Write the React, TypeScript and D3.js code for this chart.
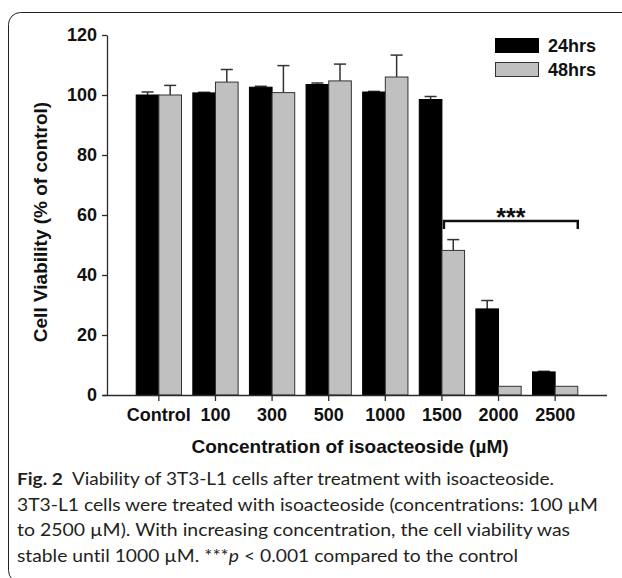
import { useEffect, useRef } from "react";
import * as d3 from "d3";

const CATEGORIES = ["Control", "100", "300", "500", "1000", "1500", "2000", "2500"];
const SERIES = ["24hrs", "48hrs"];
const VALUES_24 = [100, 100.7, 102.6, 103.5, 101.0, 98.5, 28.7, 7.7];
const ERRORS_24 = [1.0, 0.2, 0.3, 0.5, 0.2, 1.0, 2.8, 0.2];
const VALUES_48 = [100, 104.3, 100.8, 104.7, 106.0, 48.2, 2.9, 2.9];
const ERRORS_48 = [3.2, 4.2, 9.0, 5.6, 7.3, 3.6, 0, 0];
const Y_TICKS = [0, 20, 40, 60, 80, 100, 120];
const BRACKET = { from: "1500", to: "2500", value: 58, label: "***" };

const CAPTION = [
  [{ t: "Fig. 2", w: "bold" }, { t: "  Viability of 3T3-L1 cells after treatment with isoacteoside." }],
  [{ t: "3T3-L1 cells were treated with isoacteoside (concentrations: 100 µM" }],
  [{ t: "to 2500 µM). With increasing concentration, the cell viability was" }],
  [{ t: "stable until 1000 µM. ***" }, { t: "p", s: "italic" }, { t: " < 0.001 compared to the control" }],
];
const CAPTION_WIDTHS = [537, 581, 553, 501];

const FONT = "'Liberation Sans', Arial, sans-serif";
const INK = "#2b2b2b";

export default function App() {
  const svgRef = useRef<SVGSVGElement>(null);

  useEffect(() => {
    const svg = svgRef.current;
    if (!svg) return;
    const s = d3.select(svg);
    s.selectAll("*").remove();

    // panel frame
    s.append("rect")
      .attr("x", 8.5)
      .attr("y", 12.5)
      .attr("width", 700)
      .attr("height", 570)
      .attr("rx", 12)
      .attr("fill", "none")
      .attr("stroke", "#222")
      .attr("stroke-width", 1);

    const x0 = d3
      .scaleBand<string>()
      .domain(CATEGORIES)
      .range([107, 607])
      .paddingInner(0.2)
      .paddingOuter(0.516);
    const x1 = d3.scaleBand<string>().domain(SERIES).range([0, x0.bandwidth()]);
    const y = d3.scaleLinear().domain([0, 120]).range([395, 35]);

    const rows = CATEGORIES.map((c, i) => [
      { cat: c, key: "24hrs", v: VALUES_24[i], e: ERRORS_24[i] },
      { cat: c, key: "48hrs", v: VALUES_48[i], e: ERRORS_48[i] },
    ]).flat();

    const g = s.append("g");

    // error bars (upper half only)
    const eb = g.append("g").attr("stroke", "#333").attr("stroke-width", 1.5);
    rows
      .filter((d) => d.e > 0)
      .forEach((d) => {
        const cx = (x0(d.cat) ?? 0) + (x1(d.key) ?? 0) + x1.bandwidth() / 2;
        eb.append("line").attr("x1", cx).attr("x2", cx).attr("y1", y(d.v)).attr("y2", y(d.v + d.e));
        eb.append("line")
          .attr("x1", cx - 6)
          .attr("x2", cx + 6)
          .attr("y1", y(d.v + d.e))
          .attr("y2", y(d.v + d.e));
      });

    g.selectAll("rect.bar")
      .data(rows)
      .join("rect")
      .attr("class", "bar")
      .attr("x", (d) => (x0(d.cat) ?? 0) + (x1(d.key) ?? 0))
      .attr("width", x1.bandwidth())
      .attr("y", (d) => y(d.v))
      .attr("height", (d) => y(0) - y(d.v))
      .attr("fill", (d) => (d.key === "24hrs" ? "#000" : "#c0c0c0"))
      .attr("stroke", (d) => (d.key === "24hrs" ? "#000" : "#333"))
      .attr("stroke-width", 1);

    // y axis
    s.append("g")
      .attr("transform", "translate(107,0)")
      .call(d3.axisLeft(y).tickValues(Y_TICKS).tickSize(5).tickPadding(5).tickSizeOuter(0))
      .call((ax) => {
        ax.select(".domain").attr("stroke", INK).attr("stroke-width", 1.3);
        ax.selectAll(".tick line").attr("stroke", INK).attr("stroke-width", 1.3);
        ax.selectAll("text")
          .attr("fill", "#111")
          .attr("font-size", 18)
          .attr("font-weight", "bold")
          .style("font-family", FONT);
      });

    // x axis
    s.append("g")
      .attr("transform", `translate(0,${y(0)})`)
      .call(d3.axisBottom(x0).tickSize(6).tickPadding(7).tickSizeOuter(0))
      .call((ax) => {
        ax.select(".domain").attr("stroke", INK).attr("stroke-width", 1.3).attr("d", `M103,0.5H607`);
        ax.selectAll(".tick line").attr("stroke", INK).attr("stroke-width", 1.3);
        ax.selectAll("text")
          .attr("fill", "#111")
          .attr("font-size", 18)
          .attr("font-weight", "bold")
          .style("font-family", FONT);
      });

    // axis titles
    s.append("text")
      .attr("transform", "translate(47,222) rotate(-90)")
      .attr("text-anchor", "middle")
      .attr("font-size", 19)
      .attr("font-weight", "bold")
      .attr("fill", "#111")
      .style("font-family", FONT)
      .text("Cell Viability (% of control)");
    s.append("text")
      .attr("x", 350)
      .attr("y", 453)
      .attr("text-anchor", "middle")
      .attr("font-size", 19)
      .attr("font-weight", "bold")
      .attr("fill", "#111")
      .style("font-family", FONT)
      .text("Concentration of isoacteoside (µM)");

    // significance bracket
    const bx1 = (x0(BRACKET.from) ?? 0) + (x1("48hrs") ?? 0) + 2;
    const bx2 = (x0(BRACKET.to) ?? 0) + (x1("48hrs") ?? 0) + x1.bandwidth();
    const by = y(BRACKET.value);
    s.append("path")
      .attr("d", `M${bx1},${by + 8}V${by}H${bx2}V${by + 8}`)
      .attr("fill", "none")
      .attr("stroke", "#111")
      .attr("stroke-width", 2.5);
    s.append("text")
      .attr("x", (bx1 + bx2) / 2)
      .attr("y", by + 5)
      .attr("text-anchor", "middle")
      .attr("font-size", 25)
      .attr("font-weight", "bold")
      .attr("fill", "#111")
      .style("font-family", FONT)
      .text(BRACKET.label);

    // legend
    const lg = s.append("g").attr("transform", "translate(495,38)");
    SERIES.forEach((k, i) => {
      const row = lg.append("g").attr("transform", `translate(0,${i * 24})`);
      row.append("rect")
        .attr("x", 0.5)
        .attr("y", 0.5)
        .attr("width", 43)
        .attr("height", 14)
        .attr("fill", i === 0 ? "#000" : "#c0c0c0")
        .attr("stroke", i === 0 ? "#000" : "#333")
        .attr("stroke-width", 1);
      row.append("text")
        .attr("x", 53)
        .attr("y", 14)
        .attr("font-size", 18)
        .attr("font-weight", "bold")
        .attr("fill", "#111")
        .style("font-family", FONT)
        .text(k);
    });

    // caption
    CAPTION.forEach((line, i) => {
      const t = s.append("text")
        .attr("x", 17)
        .attr("y", 485 + i * 25.5)
        .attr("font-size", 17)
        .attr("fill", "#231f20")
        .attr("textLength", CAPTION_WIDTHS[i])
        .attr("lengthAdjust", "spacingAndGlyphs")
        .style("font-family", "Lato, 'Open Sans', sans-serif")
        .style("font-variant-ligatures", "none")
        .style("font-feature-settings", "'liga' 0")
        .style("white-space", "pre");
      line.forEach((p: any) => {
        t.append("tspan")
          .attr("font-weight", p.w ?? "normal")
          .attr("font-style", p.s ?? "normal")
          .text(p.t);
      });
    });
  }, []);

  return (
    <div style={{ position: "absolute", left: 0, top: 0, background: "#fff" }}>
      <svg ref={svgRef} width={622} height={578} style={{ display: "block" }} />
    </div>
  );
}
